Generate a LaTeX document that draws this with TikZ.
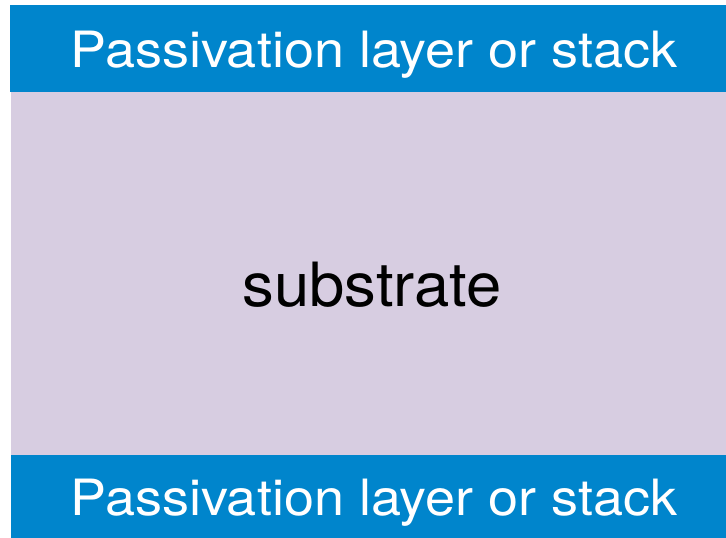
\documentclass[tikz,border=0pt]{standalone}
\usepackage{fontspec}
\usepackage{graphicx}
\setmainfont{TeX Gyre Heros}
\definecolor{passblue}{RGB}{0,133,204}
\definecolor{sublilac}{RGB}{215,205,225}
\begin{document}
\begin{tikzpicture}[x=1pt,y=1pt,
  band/.style={fill=passblue,draw=none,inner sep=0pt,anchor=north west},
  subsbox/.style={fill=sublilac,draw=none,inner sep=0pt,anchor=north west},
  bandtext/.style={inner sep=0pt,anchor=base,text=white,font=\fontsize{50}{54}\selectfont},
  substext/.style={inner sep=0pt,anchor=base,text=black,font=\fontsize{61}{64}\selectfont}]
\useasboundingbox (0,0) rectangle (726,538);
\fill[white] (0,0) rectangle (726,538);
\node[band,minimum width=716pt,minimum height=86.5pt] (top) at (10,533) {};
\node[subsbox,minimum width=715pt,minimum height=364pt] (sub) at (11,446.5) {};
\node[band,minimum width=715pt,minimum height=83pt] (bot) at (11,83) {};
\node[bandtext] (toptext) at (374,470.5) {\scalebox{1.08}[1]{Passivation layer or stack}};
\node[substext] (subtext) at (372,231) {\scalebox{1.04}[1]{substrate}};
\node[bandtext] (bottext) at (374,22) {\scalebox{1.08}[1]{Passivation layer or stack}};
\end{tikzpicture}
\end{document}
